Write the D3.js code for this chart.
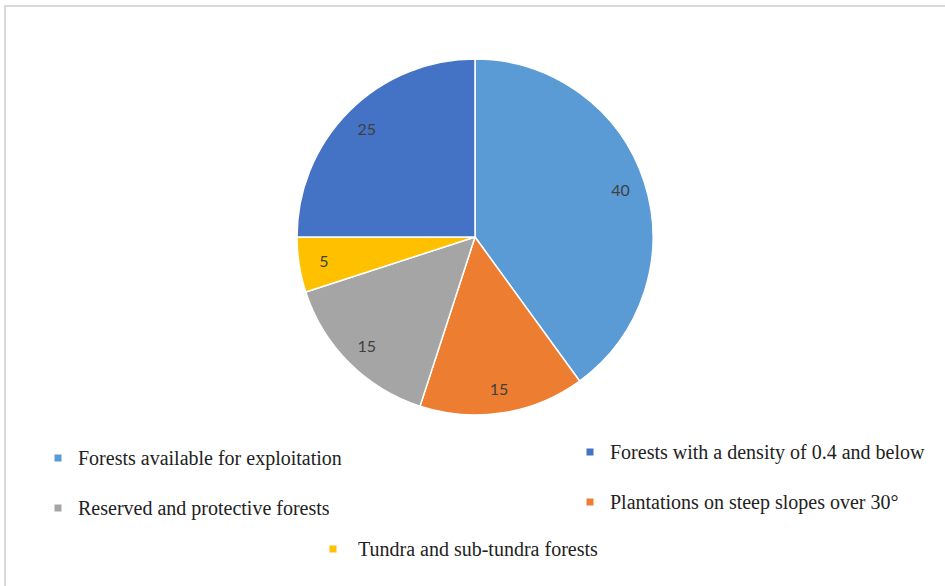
<!DOCTYPE html>
<html>
<head>
<meta charset="utf-8">
<script src="https://cdn.jsdelivr.net/npm/d3@7"></script>
<style>
  body { margin: 0; background: #fff; }
</style>
</head>
<body>
<script>
// slice order as drawn, clockwise from 12 o'clock
const categories = [
  "Forests available for exploitation",
  "Plantations on steep slopes over 30°",
  "Reserved and protective forests",
  "Tundra and sub-tundra forests",
  "Forests with a density of 0.4 and below"
];
const values = [40, 15, 15, 5, 25];
const colors = ["#5b9bd5", "#ed7d31", "#a5a5a5", "#ffc000", "#4472c4"];

// legend layout order (row by row)
const legendRows = [
  ["Forests available for exploitation", "Forests with a density of 0.4 and below"],
  ["Reserved and protective forests", "Plantations on steep slopes over 30°"],
  ["Tundra and sub-tundra forests"]
];

const W = 945, H = 586;
const cx = 475, cy = 237, R = 178;

const svg = d3.select("body").append("svg")
  .attr("width", W)
  .attr("height", H);

// chart frame
svg.append("rect")
  .attr("x", 5).attr("y", 6)
  .attr("width", W + 10).attr("height", H + 10)
  .attr("fill", "#fff")
  .attr("stroke", "#d9d9d9")
  .attr("stroke-width", 2);

const data = categories.map((c, i) => ({ name: c, value: values[i], color: colors[i] }));

const pie = d3.pie().sort(null).value(d => d.value);
const arc = d3.arc().innerRadius(0).outerRadius(R);
const labelArc = d3.arc().innerRadius(R * 0.86).outerRadius(R * 0.86);

const g = svg.append("g").attr("transform", `translate(${cx},${cy})`);

g.selectAll("path")
  .data(pie(data))
  .join("path")
  .attr("d", arc)
  .attr("fill", d => d.data.color)
  .attr("stroke", "#fff")
  .attr("stroke-width", 1.5);

g.selectAll("text")
  .data(pie(data))
  .join("text")
  .attr("transform", d => `translate(${labelArc.centroid(d)})`)
  .attr("text-anchor", "middle")
  .attr("dominant-baseline", "central")
  .attr("font-family", "Lato, 'Open Sans', sans-serif")
  .attr("font-size", 16)
  .attr("fill", "#404040")
  .text(d => d.data.value);

// legend
const colorOf = d3.scaleOrdinal().domain(categories).range(colors);
const legendPos = [
  [{ x: 58, y: 458, gap: 20 }, { x: 590, y: 452, gap: 20 }],
  [{ x: 58, y: 508, gap: 20 }, { x: 590, y: 502, gap: 20 }],
  [{ x: 333, y: 549, gap: 25 }]
];

legendRows.forEach((row, ri) => {
  row.forEach((name, ci) => {
    const p = legendPos[ri][ci];
    const item = svg.append("g").attr("transform", `translate(${p.x},${p.y})`);
    item.append("rect")
      .attr("x", -3.5).attr("y", -3.5)
      .attr("width", 7).attr("height", 7)
      .attr("fill", colorOf(name));
    item.append("text")
      .attr("x", p.gap)
      .attr("y", 0)
      .attr("dominant-baseline", "central")
      .attr("font-family", "'Liberation Serif', 'Times New Roman', serif")
      .attr("font-size", 20)
      .attr("fill", "#222")
      .text(name);
  });
});
</script>
</body>
</html>
